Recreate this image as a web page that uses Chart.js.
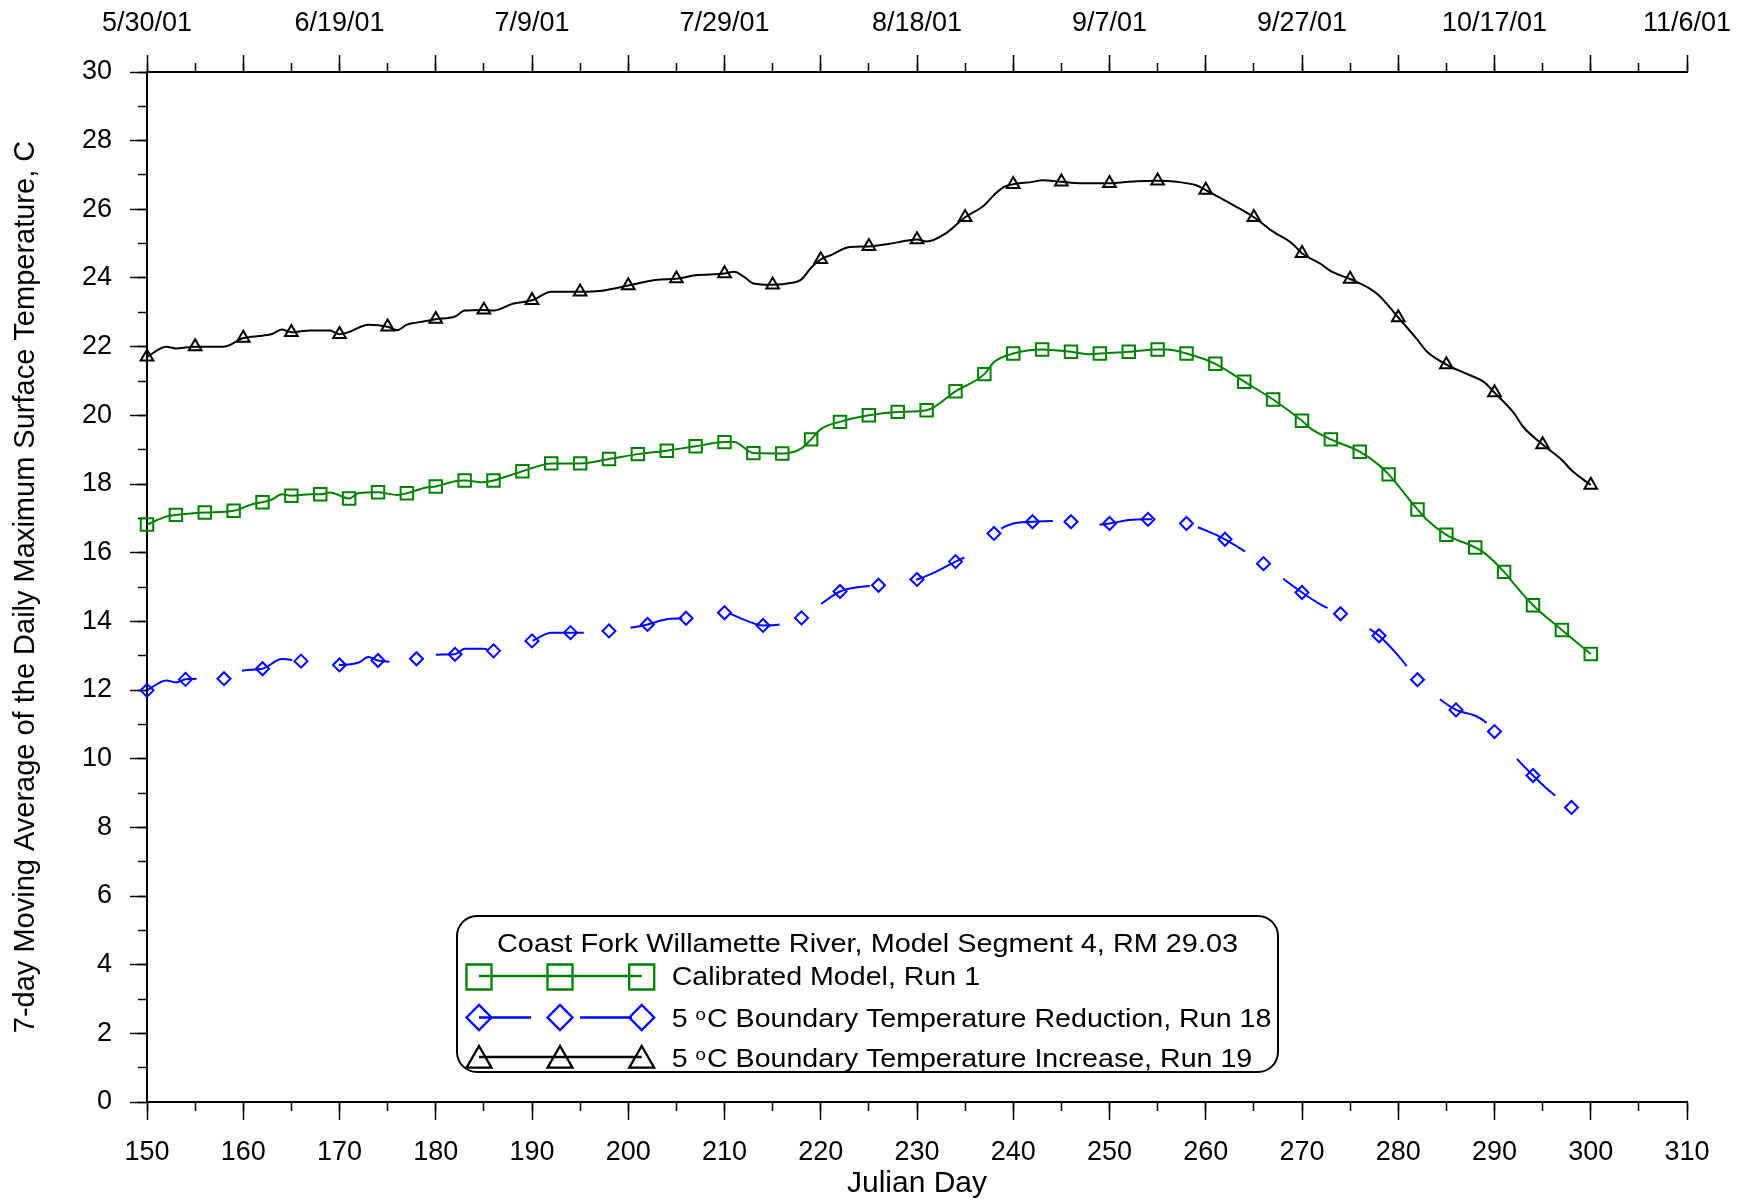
<!DOCTYPE html>
<html>
<head>
<meta charset="utf-8">
<script src="https://cdn.jsdelivr.net/npm/chart.js@4.4.0/dist/chart.umd.min.js"></script>
<style>
  html, body { margin: 0; padding: 0; background: #fff; }
  canvas { display: block; }
</style>
</head>
<body>
<canvas id="chart" width="1754" height="1202"></canvas>
<script>
// top axis dates, one every 20 days starting at day 150
const dateLabels = ['5/30/01', '6/19/01', '7/9/01', '7/29/01', '8/18/01', '9/7/01', '9/27/01', '10/17/01', '11/6/01'];

// Calibrated Model, Run 1 (markers every 3 days)
const calDays = [150, 152, 153, 156, 159, 161, 162, 163, 164, 165, 167, 168, 169, 171, 172, 174, 176, 177, 179, 180,
  182, 183, 185, 186, 188, 189, 191, 192, 195, 198, 201, 204, 207, 210, 211, 213, 216, 218, 219, 220,
  222, 225, 228, 231, 234, 237, 238, 240, 243, 246, 248, 249, 252, 255, 256, 258, 261, 264, 267, 270,
  271, 273, 276, 278, 279, 282, 283, 285, 288, 289, 291, 292, 294, 297, 300];
const calTemps = [16.82, 17.05, 17.1, 17.17, 17.22, 17.42, 17.47, 17.55, 17.7, 17.66, 17.7, 17.7, 17.75, 17.58, 17.74, 17.76, 17.68, 17.73, 17.9, 17.93,
  18.08, 18.1, 18.05, 18.1, 18.28, 18.37, 18.55, 18.6, 18.6, 18.73, 18.87, 18.97, 19.1, 19.22, 19.22, 18.9, 18.89, 19.04, 19.3, 19.6,
  19.81, 20.0, 20.1, 20.15, 20.7, 21.2, 21.55, 21.8, 21.92, 21.85, 21.78, 21.8, 21.85, 21.92, 21.92, 21.8, 21.5, 20.98, 20.46, 19.84,
  19.6, 19.3, 18.94, 18.55, 18.28, 17.26, 16.95, 16.52, 16.15, 15.98, 15.44, 15.1, 14.47, 13.75, 13.05];

// 5 oC Boundary Temperature Reduction, Run 18 (markers every 4 days)
const redDays = [150, 152, 153, 154, 156, 158, 160, 162, 164, 166, 168, 170, 172, 173, 174, 176, 178, 180, 182, 183,
  185, 186, 188, 190, 192, 194, 196, 198, 200, 202, 204, 206, 208, 210, 212, 214, 216, 218, 220, 222,
  224, 226, 228, 230, 232, 234, 236, 238, 240, 242, 244, 246, 248, 250, 252, 254, 256, 258, 260, 262,
  264, 266, 268, 270, 272, 274, 276, 278, 280, 282, 284, 286, 288, 289, 290, 291, 292, 294, 296, 298, 299];
const redTemps = [11.99, 12.28, 12.22, 12.31, 12.33, 12.33, 12.57, 12.62, 12.9, 12.84, 12.75, 12.73, 12.8, 12.96, 12.86, 12.82, 12.91, 13.03, 13.04, 13.2,
  13.2, 13.14, 13.25, 13.43, 13.67, 13.67, 13.67, 13.72, 13.8, 13.91, 14.06, 14.09, 14.15, 14.25, 14.05, 13.88, 13.92, 14.1, 14.5, 14.87,
  15.0, 15.05, 15.1, 15.22, 15.45, 15.74, 16.03, 16.56, 16.85, 16.9, 16.92, 16.9, 16.8, 16.85, 16.95, 16.97, 16.97, 16.85, 16.65, 16.39,
  16.05, 15.68, 15.25, 14.84, 14.48, 14.22, 13.95, 13.58, 13.0, 12.3, 11.8, 11.42, 11.25, 11.08, 10.79, 10.45, 10.1, 9.51, 8.99, 8.58, 8.4];

// 5 oC Boundary Temperature Increase, Run 19 (markers every 5 days)
const incDays = [150, 152, 153, 155, 158, 160, 162, 163, 164, 165, 166, 167, 169, 170, 171, 173, 175, 176, 177, 178,
  180, 182, 183, 185, 186, 188, 190, 192, 195, 197, 200, 203, 205, 207, 210, 211, 212, 213, 215, 217,
  218, 219, 220, 221, 223, 225, 227, 229, 230, 231, 233, 235, 237, 238, 239, 240, 242, 243, 245, 247,
  250, 252, 255, 257, 259, 260, 263, 265, 267, 269, 270, 272, 273, 275, 277, 278, 280, 282, 283, 285,
  287, 289, 290, 292, 293, 295, 297, 298, 300];
const incTemps = [21.7, 22.0, 21.95, 22.0, 22.0, 22.25, 22.32, 22.37, 22.5, 22.42, 22.45, 22.47, 22.47, 22.36, 22.43, 22.64, 22.58, 22.48, 22.64, 22.7,
  22.8, 22.88, 23.05, 23.07, 23.05, 23.25, 23.35, 23.6, 23.6, 23.62, 23.78, 23.95, 23.98, 24.08, 24.13, 24.18, 24.04, 23.84, 23.8, 23.86,
  23.96, 24.3, 24.54, 24.66, 24.9, 24.92, 24.99, 25.09, 25.12, 25.06, 25.3, 25.77, 26.12, 26.42, 26.65, 26.73, 26.8, 26.85, 26.8, 26.76,
  26.76, 26.8, 26.83, 26.8, 26.7, 26.56, 26.1, 25.77, 25.35, 25.0, 24.72, 24.4, 24.2, 23.97, 23.7, 23.49, 22.85, 22.2, 21.85, 21.48,
  21.22, 20.95, 20.66, 20.07, 19.66, 19.15, 18.7, 18.4, 17.97];

const legendTitle = 'Coast Fork Willamette River, Model Segment 4, RM 29.03';
const seriesNames = ['Calibrated Model, Run 1', '5 oC Boundary Temperature Reduction, Run 18', '5 oC Boundary Temperature Increase, Run 19'];

const FAMILY = "'Liberation Sans', Arial, Helvetica, sans-serif";
const GREEN = '#008000';
const BLUE = '#0000ff';
const BLACK = '#000000';

function toPoints(days, temps) {
  return days.map((d, i) => ({ x: d, y: temps[i] }));
}

// only show a marker on every n-th day
function markerEvery(step, r) {
  return ctx => (ctx.raw && (ctx.raw.x - 150) % step === 0) ? r : 0;
}

function drawMarker(ctx, style, r, x, y) {
  if (Chart.helpers && Chart.helpers.drawPoint) {
    Chart.helpers.drawPoint(ctx, { pointStyle: style, radius: r, rotation: 0, borderWidth: ctx.lineWidth }, x, y);
    return;
  }
  ctx.beginPath();
  if (style === 'rect') {
    const s = r * Math.SQRT1_2;
    ctx.rect(x - s, y - s, 2 * s, 2 * s);
  } else if (style === 'rectRot') {
    ctx.moveTo(x, y - r); ctx.lineTo(x + r, y); ctx.lineTo(x, y + r); ctx.lineTo(x - r, y); ctx.closePath();
  } else {
    ctx.moveTo(x, y - r); ctx.lineTo(x + r * 0.866, y + r / 2); ctx.lineTo(x - r * 0.866, y + r / 2); ctx.closePath();
  }
  ctx.stroke();
}

function textAt(ctx, s, x, y, sx) {
  ctx.save();
  ctx.translate(x, y);
  ctx.scale(sx, 1);
  ctx.fillText(s, 0, 0);
  ctx.restore();
}

// legend box: title, then 3 rows with a line and 3 markers each
const boxLegend = {
  id: 'boxLegend',
  afterDraw(chart) {
    const ctx = chart.ctx;
    const bx = 457, by = 916, bw = 821, bh = 156, rad = 20;
    ctx.save();
    ctx.beginPath();
    ctx.moveTo(bx + rad, by);
    ctx.arcTo(bx + bw, by, bx + bw, by + bh, rad);
    ctx.arcTo(bx + bw, by + bh, bx, by + bh, rad);
    ctx.arcTo(bx, by + bh, bx, by, rad);
    ctx.arcTo(bx, by, bx + bw, by, rad);
    ctx.closePath();
    ctx.fillStyle = '#fff';
    ctx.fill();
    ctx.lineWidth = 2;
    ctx.strokeStyle = '#000';
    ctx.stroke();

    const sx = 1.1;
    ctx.fillStyle = '#000';
    ctx.textBaseline = 'alphabetic';
    ctx.font = '26px ' + FAMILY;
    const tw = ctx.measureText(legendTitle).width * 1.11;
    textAt(ctx, legendTitle, bx + bw / 2 - tw / 2, 952, 1.11);

    const rows = [
      { color: GREEN, style: 'rect', r: 17.7, dash: [], lineY: 976, markY: 977, base: 985 },
      { color: BLUE, style: 'rectRot', r: 12.5, dash: [52, 49], lineY: 1017.5, markY: 1017.5, base: 1026.5 },
      { color: BLACK, style: 'triangle', r: 14.4, dash: [], lineY: 1057, markY: 1060.4, base: 1066.5 }
    ];
    const mx = [479, 560, 641.7];
    rows.forEach((row, i) => {
      ctx.strokeStyle = row.color;
      ctx.lineWidth = 2.3;
      ctx.setLineDash(row.dash);
      ctx.beginPath();
      ctx.moveTo(mx[0], row.lineY);
      ctx.lineTo(mx[2], row.lineY);
      ctx.stroke();
      ctx.setLineDash([]);
      ctx.fillStyle = 'rgba(0,0,0,0)';
      mx.forEach(x => drawMarker(ctx, row.style, row.r, x, row.markY));

      ctx.fillStyle = '#000';
      const name = seriesNames[i];
      const k = name.indexOf(' oC ');
      if (k < 0) {
        ctx.font = '26px ' + FAMILY;
        textAt(ctx, name, 671.7, row.base, sx);
      } else {
        // "o" of "oC" is drawn as a small raised letter
        let x = 671.7;
        ctx.font = '26px ' + FAMILY;
        const a = name.slice(0, k + 1);
        textAt(ctx, a, x, row.base, sx);
        x += ctx.measureText(a).width * sx;
        ctx.font = '17px ' + FAMILY;
        textAt(ctx, 'o', x, row.base - 7, sx);
        x += ctx.measureText('o').width * sx + 1;
        ctx.font = '26px ' + FAMILY;
        textAt(ctx, name.slice(k + 2), x, row.base, sx);
      }
    });
    ctx.restore();
  }
};

const tickFont = { family: FAMILY, size: 27 };
const majorGrid = { drawOnChartArea: false, tickLength: 17, tickWidth: 1.5, tickColor: '#000' };
const minorGrid = { drawOnChartArea: false, tickLength: 9, tickWidth: 1.5, tickColor: '#000' };

new Chart(document.getElementById('chart'), {
  type: 'line',
  data: {
    datasets: [
      {
        label: seriesNames[2],
        data: toPoints(incDays, incTemps),
        borderColor: BLACK,
        borderWidth: 2,
        pointStyle: 'triangle',
        pointRadius: markerEvery(5, 7.3),
        pointBorderColor: BLACK,
        pointBackgroundColor: 'rgba(0,0,0,0)',
        pointBorderWidth: 2,
        cubicInterpolationMode: 'monotone',
        clip: false
      },
      {
        label: seriesNames[0],
        data: toPoints(calDays, calTemps),
        borderColor: GREEN,
        borderWidth: 2,
        pointStyle: 'rect',
        pointRadius: markerEvery(3, 8.8),
        pointBorderColor: GREEN,
        pointBackgroundColor: 'rgba(0,0,0,0)',
        pointBorderWidth: 2,
        cubicInterpolationMode: 'monotone',
        clip: false
      },
      {
        label: seriesNames[1],
        data: toPoints(redDays, redTemps),
        borderColor: BLUE,
        borderWidth: 2,
        borderDash: [53, 47],
        pointStyle: 'rectRot',
        pointRadius: markerEvery(4, 6.5),
        pointBorderColor: BLUE,
        pointBackgroundColor: 'rgba(0,0,0,0)',
        pointBorderWidth: 2,
        cubicInterpolationMode: 'monotone',
        clip: false
      }
    ]
  },
  options: {
    responsive: false,
    animation: false,
    devicePixelRatio: 1,
    events: [],
    layout: { padding: { left: 0, right: 67, top: 0, bottom: 0 } },
    plugins: { legend: { display: false }, tooltip: { enabled: false } },
    scales: {
      x: {
        type: 'linear', position: 'bottom', min: 150, max: 310, weight: 1,
        ticks: { stepSize: 10, autoSkip: false, maxRotation: 0, font: tickFont, color: '#000', padding: 16 },
        grid: { ...majorGrid, tickLength: 18 },
        border: { color: '#000', width: 2 },
        title: { display: true, text: 'Julian Day', font: { family: FAMILY, size: 30 }, color: '#000', padding: { top: 0, bottom: 0 } },
        afterFit: s => { s.height = 100; }
      },
      xMinor: {
        type: 'linear', position: 'bottom', min: 150, max: 310, weight: 0,
        ticks: { stepSize: 5, display: false, autoSkip: false },
        grid: minorGrid,
        border: { display: false },
        afterFit: s => { s.height = 0; }
      },
      xTop: {
        type: 'linear', position: 'top', min: 150, max: 310, weight: 1,
        ticks: {
          stepSize: 10, autoSkip: false, maxRotation: 0, font: tickFont, color: '#000', padding: 15,
          callback: v => ((v - 150) % 20 === 0 ? dateLabels[(v - 150) / 20] : '')
        },
        grid: majorGrid,
        border: { color: '#000', width: 2 },
        afterFit: s => { s.height = 72; }
      },
      xTopMinor: {
        type: 'linear', position: 'top', min: 150, max: 310, weight: 0,
        ticks: { stepSize: 5, display: false, autoSkip: false },
        grid: minorGrid,
        border: { display: false },
        afterFit: s => { s.height = 0; }
      },
      y: {
        type: 'linear', position: 'left', min: 0, max: 30, weight: 1,
        ticks: { stepSize: 2, autoSkip: false, font: tickFont, color: '#000', padding: 18 },
        grid: majorGrid,
        border: { color: '#000', width: 2 },
        title: {
          display: true, text: '7-day Moving Average of the Daily Maximum Surface Temperature, C',
          font: { family: FAMILY, size: 29 }, color: '#000', padding: { top: 9, bottom: 0 }
        },
        afterFit: s => { s.width = 147; }
      },
      yMinor: {
        type: 'linear', position: 'left', min: 0, max: 30, weight: 0,
        ticks: { stepSize: 1, display: false, autoSkip: false },
        grid: minorGrid,
        border: { display: false },
        afterFit: s => { s.width = 0; }
      }
    }
  },
  plugins: [boxLegend]
});
</script>
</body>
</html>
